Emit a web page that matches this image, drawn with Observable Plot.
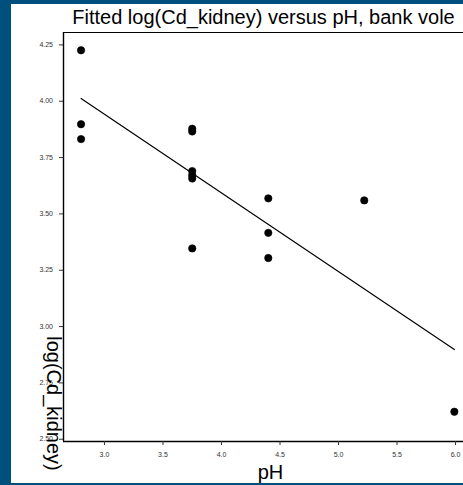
<!DOCTYPE html>
<html>
<head>
<meta charset="utf-8">
<script src="https://cdn.jsdelivr.net/npm/d3@7"></script>
<script src="https://cdn.jsdelivr.net/npm/@observablehq/plot@0.6"></script>
<style>
  html, body { margin: 0; padding: 0; }
  body { background: #00507e; width: 463px; height: 485px; overflow: hidden; position: relative; }
  #panel { position: absolute; left: 11px; top: 4px; width: 452px; height: 479px; background: white; overflow: hidden; }
  #panel svg { display: block; font-family: "Liberation Sans", Arial, sans-serif; }
</style>
</head>
<body>
<div id="panel"></div>
<script>
// Data
const pH    = [2.8, 2.8, 2.8, 3.75, 3.75, 3.75, 3.75, 3.75, 3.75, 4.4, 4.4, 4.4, 5.22, 5.99];
const logCd = [4.226, 3.898, 3.832, 3.878, 3.866, 3.690, 3.672, 3.657, 3.347, 3.569, 3.416, 3.304, 3.560, 2.622];
const fitPH    = [2.8, 5.99];
const fitLogCd = [4.012, 2.898];
const xTicks = [3.0, 3.5, 4.0, 4.5, 5.0, 5.5, 6.0];
const yTicks = [2.50, 2.75, 3.00, 3.25, 3.50, 3.75, 4.00, 4.25];
const titleText = "Fitted log(Cd_kidney) versus pH, bank vole";
const xLabel = "pH";
const yLabel = "log(Cd_kidney)";

const xDomain = [2.65, 6.068];
const yDomain = [2.49, 4.305];

const points = pH.map((x, i) => ({x, y: logCd[i]}));
const fit = fitPH.map((x, i) => ({x, y: fitLogCd[i]}));

const chart = Plot.plot({
  width: 452,
  height: 479,
  marginLeft: 52,
  marginRight: 0,
  marginTop: 28,
  marginBottom: 42,
  style: {fontSize: "7px", fontFamily: "Liberation Sans, Arial, sans-serif", background: "white", overflow: "hidden"},
  x: {domain: xDomain},
  y: {domain: yDomain},
  marks: [
    Plot.ruleY([yDomain[1]], {stroke: "black", strokeWidth: 1.2}),
    Plot.ruleY([yDomain[0]], {stroke: "black", strokeWidth: 1.4}),
    Plot.ruleX([xDomain[0]], {stroke: "black", strokeWidth: 1.4}),
    Plot.axisX({ticks: xTicks, tickFormat: d3.format(".1f"), tickSize: 4, tickPadding: 7, label: null, color: "#333", fontSize: 7}),
    Plot.axisY({ticks: yTicks, tickFormat: d3.format(".2f"), tickSize: 4, tickPadding: 6.5, label: null, color: "#333", fontSize: 7}),
    Plot.line(fit, {x: "x", y: "y", stroke: "black", strokeWidth: 1.2}),
    Plot.dot(points, {x: "x", y: "y", r: 3.7, fill: "black", stroke: "black", strokeWidth: 0.6}),
    Plot.text([titleText], {frameAnchor: "top", lineAnchor: "bottom", dy: -8.7, fontSize: 20, fill: "black"}),
    Plot.text([yLabel], {frameAnchor: "left", rotate: 90, lineAnchor: "middle", textAnchor: "middle", dx: -9.6, dy: 166.5, fontSize: 20, fill: "black"}),
    Plot.text([xLabel], {frameAnchor: "bottom", lineAnchor: "bottom", dx: 7, dy: 37, fontSize: 20, fill: "black"})
  ]
});
document.getElementById("panel").appendChild(chart);
</script>
</body>
</html>
